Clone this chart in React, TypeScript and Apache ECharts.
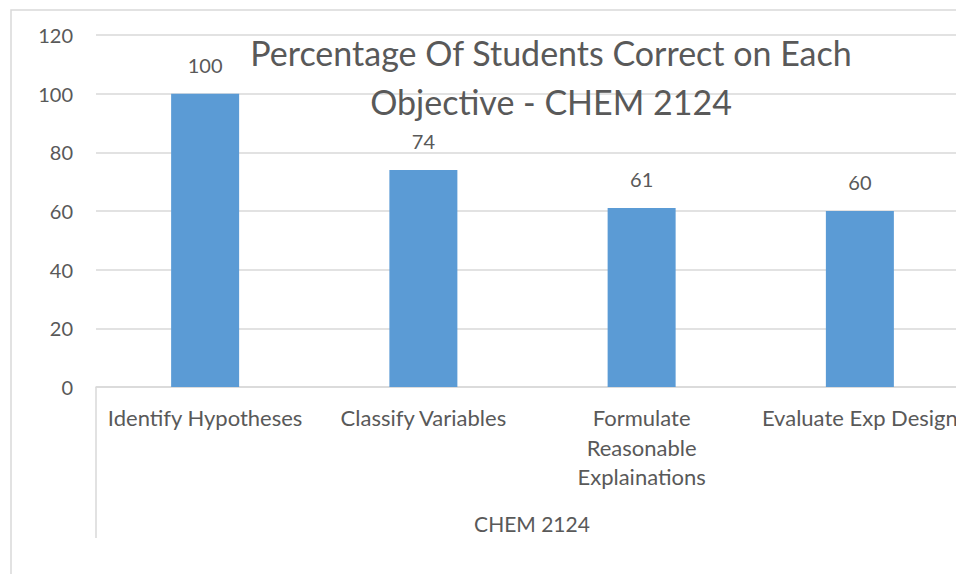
import React, { useEffect, useRef } from "react";
import * as echarts from "echarts";

const categories = [
  "Identify Hypotheses",
  "Classify Variables",
  "Formulate\nReasonable\nExplainations",
  "Evaluate Exp Design",
];
const values = [100, 74, 61, 60];
const groupLabel = "CHEM 2124";
const titleText = "Percentage Of Students Correct on Each\nObjective - CHEM 2124";
const yMin = 0;
const yMax = 120;
const yInterval = 20;

const FONT = "Lato";
const TEXT = "#595959";
const GRID = "#D9D9D9";
const BAR = "#5B9BD5";

export default function App() {
  const ref = useRef<HTMLDivElement>(null);
  useEffect(() => {
    if (!ref.current) return;
    const chart = echarts.init(ref.current, undefined, { renderer: "svg" });
    chart.setOption({
      animation: false,
      backgroundColor: "#ffffff",
      textStyle: { fontFamily: FONT },
      title: {
        text: titleText,
        left: 546,
        top: 23,
        textAlign: "center",
        textStyle: {
          fontFamily: FONT,
          fontSize: 34,
          fontWeight: "normal",
          color: TEXT,
          lineHeight: 49,
        },
      },
      grid: {
        left: 96,
        top: 35,
        width: 873,
        bottom: 187,
        containLabel: false,
        outerBoundsMode: "none",
      },
      xAxis: {
        type: "category",
        data: categories,
        axisLine: { show: true, lineStyle: { color: GRID, width: 1.5 } },
        axisTick: { show: false },
        axisLabel: {
          interval: 0,
          color: TEXT,
          fontFamily: FONT,
          fontSize: 22,
          lineHeight: 29.5,
          margin: 16,
          hideOverlap: false,
        },
      },
      yAxis: {
        type: "value",
        min: yMin,
        max: yMax,
        interval: yInterval,
        axisLine: { show: false },
        axisTick: { show: false },
        splitLine: { lineStyle: { color: GRID, width: 1.5 } },
        axisLabel: { color: TEXT, fontFamily: FONT, fontSize: 20, margin: 23 },
      },
      series: [
        {
          type: "bar",
          data: values,
          barWidth: 68,
          itemStyle: { color: BAR },
          label: {
            show: true,
            position: "top",
            distance: 19,
            color: TEXT,
            fontFamily: FONT,
            fontSize: 20,
          },
        },
      ],
      graphic: [
        {
          type: "rect",
          shape: { x: 11, y: 10, width: 1200, height: 800 },
          style: { fill: "none", stroke: GRID, lineWidth: 1.5 },
          silent: true,
        },
        {
          type: "line",
          shape: { x1: 96, y1: 387, x2: 96, y2: 538 },
          style: { stroke: GRID, lineWidth: 1.5 },
          silent: true,
        },
        {
          type: "text",
          x: 532,
          y: 523,
          style: {
            text: groupLabel,
            fill: TEXT,
            font: `21px ${FONT}`,
            textAlign: "center",
            textVerticalAlign: "middle",
          },
          silent: true,
        },
      ],
    });
    return () => chart.dispose();
  }, []);
  return (
    <div
      ref={ref}
      style={{ position: "fixed", left: 0, top: 0, width: 956, height: 574 }}
    />
  );
}
